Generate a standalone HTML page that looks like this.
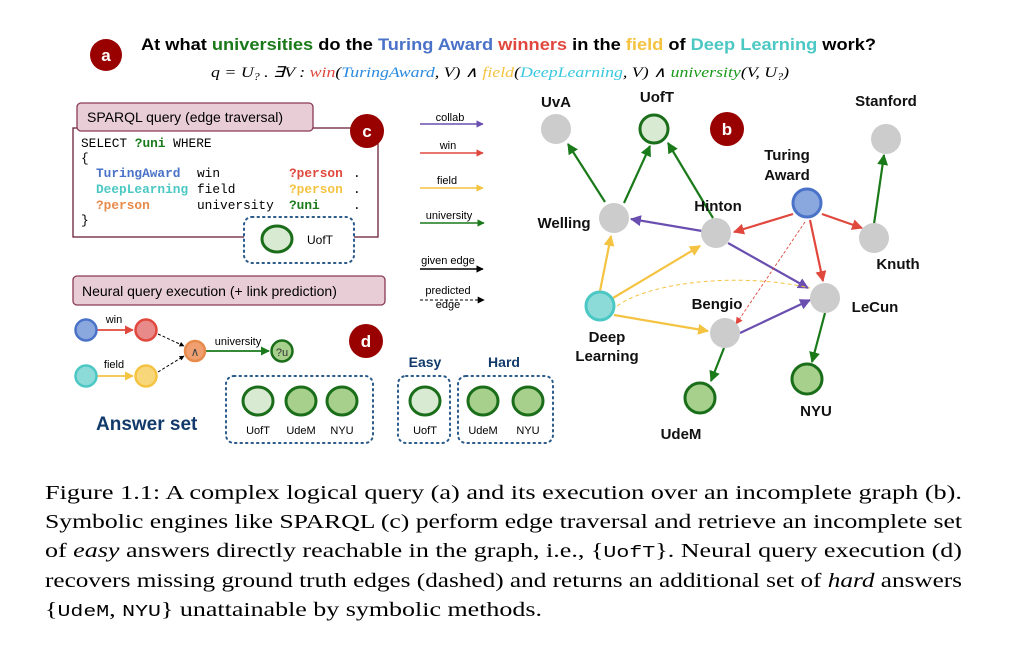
<!DOCTYPE html>
<html><head><meta charset="utf-8"><style>
html,body{margin:0;padding:0;background:#fff;width:1010px;height:650px;overflow:hidden}
svg{display:block}
.s{font-family:"Liberation Sans",sans-serif}
.m{font-family:"Liberation Mono",monospace;font-size:12.8px}
.sf{font-family:"Liberation Serif",serif}
</style></head><body>
<svg width="1010" height="650" viewBox="0 0 1010 650" xmlns="http://www.w3.org/2000/svg">
<defs>
<marker id="ap" viewBox="0 0 10 10" refX="9" refY="5" markerWidth="5" markerHeight="5" orient="auto"><path d="M0,0L10,5L0,10z" fill="#6a4fb0"/></marker>
<marker id="ar" viewBox="0 0 10 10" refX="9" refY="5" markerWidth="5" markerHeight="5" orient="auto"><path d="M0,0L10,5L0,10z" fill="#e0483e"/></marker>
<marker id="ay" viewBox="0 0 10 10" refX="9" refY="5" markerWidth="5" markerHeight="5" orient="auto"><path d="M0,0L10,5L0,10z" fill="#f5c342"/></marker>
<marker id="ag" viewBox="0 0 10 10" refX="9" refY="5" markerWidth="5" markerHeight="5" orient="auto"><path d="M0,0L10,5L0,10z" fill="#1a7a1a"/></marker>
<marker id="ak" viewBox="0 0 10 10" refX="9" refY="5" markerWidth="5" markerHeight="5" orient="auto"><path d="M0,0L10,5L0,10z" fill="#000"/></marker>
<marker id="aks" viewBox="0 0 10 10" refX="9" refY="5" markerWidth="7" markerHeight="7" orient="auto"><path d="M0,0L10,5L0,10z" fill="#000"/></marker>
<marker id="ars" viewBox="0 0 10 10" refX="9" refY="5" markerWidth="8" markerHeight="8" orient="auto"><path d="M0,0L10,5L0,10z" fill="#e0483e"/></marker>
</defs>

<!-- header -->
<circle cx="106" cy="55" r="16" fill="#990000"/>
<text x="106" y="61" class="s" font-size="17" font-weight="bold" fill="#fff" text-anchor="middle">a</text>
<text x="141" y="50" class="s" font-size="17" font-weight="bold" textLength="735" lengthAdjust="spacingAndGlyphs"><tspan fill="#000">At what </tspan><tspan fill="#1a7a1a">universities</tspan><tspan fill="#000"> do the </tspan><tspan fill="#4a72c8">Turing Award</tspan><tspan fill="#000"> </tspan><tspan fill="#e0483e">winners</tspan><tspan fill="#000"> in the </tspan><tspan fill="#f5c342">field</tspan><tspan fill="#000"> of </tspan><tspan fill="#4cc8c4">Deep Learning</tspan><tspan fill="#000"> work?</tspan></text>
<text x="211" y="77" class="sf" font-size="15" font-style="italic" textLength="578" lengthAdjust="spacingAndGlyphs">q = U<tspan font-size="10" dy="3">?</tspan><tspan dy="-3"> . ∃V : </tspan><tspan fill="#e0483e">win</tspan>(<tspan fill="#2a8ae0">TuringAward</tspan>, V) ∧ <tspan fill="#f5c342">field</tspan>(<tspan fill="#3ac8e0">DeepLearning</tspan>, V) ∧ <tspan fill="#1a9a1a">university</tspan>(V, U<tspan font-size="10" dy="3">?</tspan><tspan dy="-3">)</tspan></text>

<!-- section c -->
<rect x="73" y="128" width="305" height="109" fill="#fff" stroke="#6b2038" stroke-width="1.3"/>
<rect x="77" y="103" width="236" height="28" rx="4" fill="#e8cdd6" stroke="#8a3a55" stroke-width="1.3"/>
<text x="87" y="122" class="s" font-size="14">SPARQL query (edge traversal)</text>
<circle cx="367" cy="131" r="17" fill="#990000"/>
<text x="367" y="137" class="s" font-size="17" font-weight="bold" fill="#fff" text-anchor="middle">c</text>
<text x="81" y="147" class="m">SELECT <tspan fill="#1a7a1a" font-weight="bold">?uni</tspan> WHERE</text>
<text x="81" y="162" class="m">{</text>
<text x="96" y="177" class="m" fill="#4a72c8" font-weight="bold">TuringAward</text>
<text x="197" y="177" class="m">win</text>
<text x="289" y="177" class="m" fill="#e0483e" font-weight="bold">?person</text>
<text x="353" y="177" class="m">.</text>
<text x="96" y="193" class="m" fill="#4cc8c4" font-weight="bold">DeepLearning</text>
<text x="197" y="193" class="m">field</text>
<text x="289" y="193" class="m" fill="#f5c342" font-weight="bold">?person</text>
<text x="353" y="193" class="m">.</text>
<text x="96" y="209" class="m" fill="#e88a4a" font-weight="bold">?person</text>
<text x="197" y="209" class="m">university</text>
<text x="289" y="209" class="m" fill="#1a7a1a" font-weight="bold">?uni</text>
<text x="353" y="209" class="m">.</text>
<text x="81" y="224" class="m">}</text>
<rect x="244" y="217" width="110" height="46" rx="8" fill="#fff" stroke="#2a5a8a" stroke-width="2" stroke-dasharray="1.5,4" stroke-linecap="round"/>
<ellipse cx="277" cy="239" rx="15" ry="13" fill="#d9ead3" stroke="#1a6e1a" stroke-width="3"/>
<text x="320" y="244" class="s" font-size="12" text-anchor="middle">UofT</text>

<!-- section d -->
<rect x="73" y="276" width="312" height="29" rx="4" fill="#e8cdd6" stroke="#8a3a55" stroke-width="1.3"/>
<text x="82" y="296" class="s" font-size="14">Neural query execution (+ link prediction)</text>
<line x1="97" y1="330" x2="133" y2="330" stroke="#e0483e" stroke-width="1.8" marker-end="url(#ar)"/>
<line x1="97" y1="376" x2="133" y2="376" stroke="#f5c342" stroke-width="1.8" marker-end="url(#ay)"/>
<line x1="158" y1="334" x2="184" y2="346" stroke="#000" stroke-width="1" stroke-dasharray="3,2" marker-end="url(#ak)"/>
<line x1="158" y1="372" x2="184" y2="356" stroke="#000" stroke-width="1" stroke-dasharray="3,2" marker-end="url(#ak)"/>
<line x1="206" y1="351" x2="269" y2="351" stroke="#1a7a1a" stroke-width="1.8" marker-end="url(#ag)"/>
<circle cx="86" cy="330" r="10.5" fill="#8aa8de" stroke="#4a72c8" stroke-width="2.5"/>
<circle cx="146" cy="330" r="10.5" fill="#e88a8a" stroke="#e0483e" stroke-width="2.5"/>
<circle cx="86" cy="376" r="10.5" fill="#8ddbd8" stroke="#4cc8c4" stroke-width="2.5"/>
<circle cx="146" cy="376" r="10.5" fill="#f8d77a" stroke="#f5c342" stroke-width="2.5"/>
<circle cx="195" cy="351" r="10" fill="#f0a070" stroke="#e88a4a" stroke-width="2.5"/>
<text x="195" y="356" class="s" font-size="12" text-anchor="middle" fill="#444">∧</text>
<circle cx="282" cy="351" r="10.5" fill="#a8d08d" stroke="#1a6e1a" stroke-width="2.5"/>
<text x="282" y="356" class="s" font-size="11" text-anchor="middle" fill="#333">?u</text>
<text x="114" y="323" class="s" font-size="11" text-anchor="middle">win</text>
<text x="114" y="368" class="s" font-size="11" text-anchor="middle">field</text>
<text x="238" y="345" class="s" font-size="11" text-anchor="middle">university</text>
<circle cx="366" cy="341" r="17" fill="#990000"/>
<text x="366" y="347" class="s" font-size="17" font-weight="bold" fill="#fff" text-anchor="middle">d</text>
<text x="96" y="430" class="s" font-size="19" font-weight="bold" fill="#123a6a">Answer set</text>
<rect x="226" y="376" width="147" height="67" rx="8" fill="none" stroke="#2a5a8a" stroke-width="2" stroke-dasharray="1.5,4" stroke-linecap="round"/>
<ellipse cx="258" cy="401" rx="15" ry="14" fill="#d9ead3" stroke="#1a6e1a" stroke-width="3"/>
<ellipse cx="301" cy="401" rx="15" ry="14" fill="#a8d08d" stroke="#1a6e1a" stroke-width="3"/>
<ellipse cx="342" cy="401" rx="15" ry="14" fill="#a8d08d" stroke="#1a6e1a" stroke-width="3"/>
<text x="258" y="434" class="s" font-size="11" text-anchor="middle">UofT</text>
<text x="301" y="434" class="s" font-size="11" text-anchor="middle">UdeM</text>
<text x="342" y="434" class="s" font-size="11" text-anchor="middle">NYU</text>

<text x="425" y="367" class="s" font-size="14" font-weight="bold" fill="#123a6a" text-anchor="middle">Easy</text>
<text x="504" y="367" class="s" font-size="14" font-weight="bold" fill="#123a6a" text-anchor="middle">Hard</text>
<rect x="398" y="376" width="52" height="67" rx="8" fill="none" stroke="#2a5a8a" stroke-width="2" stroke-dasharray="1.5,4" stroke-linecap="round"/>
<rect x="458" y="376" width="95" height="67" rx="8" fill="none" stroke="#2a5a8a" stroke-width="2" stroke-dasharray="1.5,4" stroke-linecap="round"/>
<ellipse cx="425" cy="401" rx="15" ry="14" fill="#d9ead3" stroke="#1a6e1a" stroke-width="3"/>
<ellipse cx="483" cy="401" rx="15" ry="14" fill="#a8d08d" stroke="#1a6e1a" stroke-width="3"/>
<ellipse cx="528" cy="401" rx="15" ry="14" fill="#a8d08d" stroke="#1a6e1a" stroke-width="3"/>
<text x="425" y="434" class="s" font-size="11" text-anchor="middle">UofT</text>
<text x="483" y="434" class="s" font-size="11" text-anchor="middle">UdeM</text>
<text x="528" y="434" class="s" font-size="11" text-anchor="middle">NYU</text>

<!-- legend -->
<g class="s" font-size="11" text-anchor="middle">
<text x="450" y="121">collab</text>
<line x1="420" y1="124" x2="483" y2="124" stroke="#6a4fb0" stroke-width="1.5" marker-end="url(#ap)"/>
<text x="448" y="149">win</text>
<line x1="420" y1="153" x2="483" y2="153" stroke="#e0483e" stroke-width="1.5" marker-end="url(#ar)"/>
<text x="447" y="184">field</text>
<line x1="420" y1="188" x2="483" y2="188" stroke="#f5c342" stroke-width="1.5" marker-end="url(#ay)"/>
<text x="449" y="219">university</text>
<line x1="420" y1="223" x2="484" y2="223" stroke="#1a7a1a" stroke-width="1.5" marker-end="url(#ag)"/>
<text x="448" y="264">given edge</text>
<line x1="420" y1="269" x2="483" y2="269" stroke="#000" stroke-width="1.5" marker-end="url(#ak)"/>
<text x="448" y="294">predicted</text>
<line x1="420" y1="300" x2="484" y2="300" stroke="#000" stroke-width="1" stroke-dasharray="3,2" marker-end="url(#aks)"/>
<text x="448" y="308">edge</text>
</g>

<!-- graph b -->
<g stroke-width="2.2" fill="none">
<line x1="605" y1="202" x2="568" y2="144" stroke="#1a7a1a" marker-end="url(#ag)"/>
<line x1="624" y1="203" x2="650" y2="146" stroke="#1a7a1a" marker-end="url(#ag)"/>
<line x1="713" y1="218" x2="668" y2="143" stroke="#1a7a1a" marker-end="url(#ag)"/>
<line x1="874" y1="224" x2="884" y2="155" stroke="#1a7a1a" marker-end="url(#ag)"/>
<line x1="724" y1="348" x2="711" y2="381" stroke="#1a7a1a" marker-end="url(#ag)"/>
<line x1="825" y1="313" x2="812" y2="362" stroke="#1a7a1a" marker-end="url(#ag)"/>
<line x1="702" y1="231" x2="631" y2="219" stroke="#6a4fb0" marker-end="url(#ap)"/>
<line x1="728" y1="243" x2="808" y2="288" stroke="#6a4fb0" marker-end="url(#ap)"/>
<line x1="740" y1="333" x2="810" y2="300" stroke="#6a4fb0" marker-end="url(#ap)"/>
<line x1="793" y1="214" x2="734" y2="232" stroke="#e0483e" marker-end="url(#ar)"/>
<line x1="822" y1="214" x2="862" y2="228" stroke="#e0483e" marker-end="url(#ar)"/>
<line x1="810" y1="220" x2="823" y2="281" stroke="#e0483e" marker-end="url(#ar)"/>
<line x1="600" y1="291" x2="611" y2="236" stroke="#f5c342" marker-end="url(#ay)"/>
<line x1="613" y1="298" x2="700" y2="246" stroke="#f5c342" marker-end="url(#ay)"/>
<line x1="614" y1="315" x2="708" y2="331" stroke="#f5c342" marker-end="url(#ay)"/>
<line x1="805" y1="222" x2="736" y2="324" stroke="#e0483e" stroke-width="0.9" stroke-dasharray="3,2" marker-end="url(#ars)"/>
<path d="M617,306 C650,282 740,272 810,288" stroke="#f5c342" stroke-width="1" stroke-dasharray="4,3"/>
</g>
<g>
<circle cx="556" cy="129" r="15" fill="#cccccc"/>
<circle cx="654" cy="129" r="14" fill="#d9ead3" stroke="#1a6e1a" stroke-width="3"/>
<circle cx="886" cy="139" r="15" fill="#cccccc"/>
<circle cx="614" cy="218" r="15" fill="#cccccc"/>
<circle cx="716" cy="233" r="15" fill="#cccccc"/>
<circle cx="807" cy="203" r="14" fill="#8aa8de" stroke="#4a72c8" stroke-width="3"/>
<circle cx="874" cy="238" r="15" fill="#cccccc"/>
<circle cx="825" cy="298" r="15" fill="#cccccc"/>
<circle cx="725" cy="333" r="15" fill="#cccccc"/>
<circle cx="600" cy="306" r="14" fill="#8ddbd8" stroke="#4cc8c4" stroke-width="3"/>
<circle cx="700" cy="398" r="15" fill="#a8d08d" stroke="#1a6e1a" stroke-width="3"/>
<circle cx="807" cy="379" r="15" fill="#a8d08d" stroke="#1a6e1a" stroke-width="3"/>
<circle cx="727" cy="129" r="17" fill="#990000"/>
<text x="727" y="135" class="s" font-size="17" font-weight="bold" fill="#fff" text-anchor="middle">b</text>
</g>
<g class="s" font-size="15" font-weight="bold" text-anchor="middle" fill="#111">
<text x="556" y="107">UvA</text>
<text x="657" y="102">UofT</text>
<text x="886" y="106">Stanford</text>
<text x="787" y="160">Turing</text>
<text x="787" y="180">Award</text>
<text x="564" y="228">Welling</text>
<text x="718" y="211">Hinton</text>
<text x="898" y="269">Knuth</text>
<text x="875" y="312">LeCun</text>
<text x="717" y="309">Bengio</text>
<text x="607" y="342">Deep</text>
<text x="607" y="361">Learning</text>
<text x="681" y="439">UdeM</text>
<text x="816" y="416">NYU</text>
</g>

<!-- caption -->
<g class="sf" font-size="20.5" fill="#000">
<text x="45" y="499" textLength="917" lengthAdjust="spacingAndGlyphs">Figure 1.1: A complex logical query (a) and its execution over an incomplete graph (b).</text>
<text x="45" y="528" textLength="917" lengthAdjust="spacingAndGlyphs">Symbolic engines like SPARQL (c) perform edge traversal and retrieve an incomplete set</text>
<text x="45" y="557" textLength="917" lengthAdjust="spacingAndGlyphs">of <tspan font-style="italic">easy</tspan> answers directly reachable in the graph, i.e., {<tspan font-family="Liberation Mono" font-size="17">UofT</tspan>}. Neural query execution (d)</text>
<text x="45" y="587" textLength="917" lengthAdjust="spacingAndGlyphs">recovers missing ground truth edges (dashed) and returns an additional set of <tspan font-style="italic">hard</tspan> answers</text>
<text x="45" y="616" textLength="497" lengthAdjust="spacingAndGlyphs">{<tspan font-family="Liberation Mono" font-size="17">UdeM</tspan>, <tspan font-family="Liberation Mono" font-size="17">NYU</tspan>} unattainable by symbolic methods.</text>
</g>
</svg>
</body></html>
